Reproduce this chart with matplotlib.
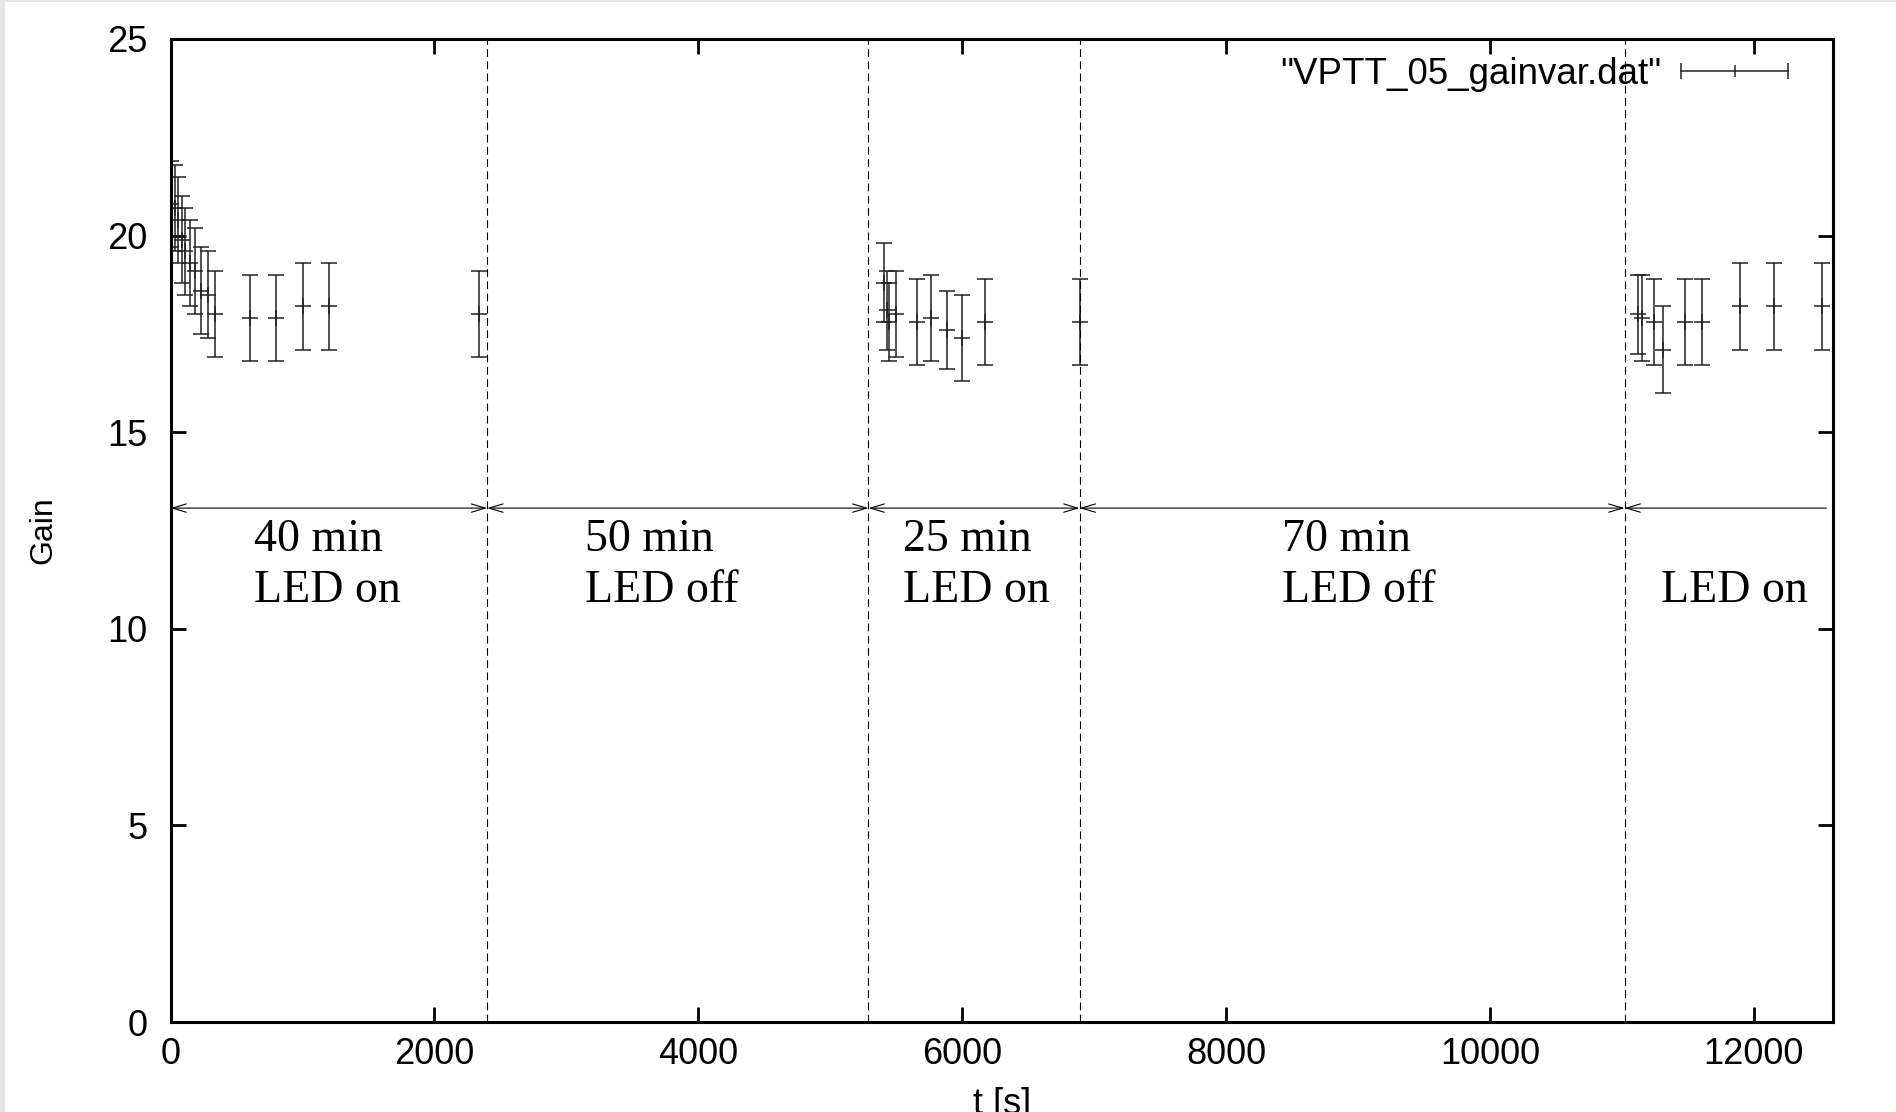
import matplotlib
matplotlib.use("Agg")
import matplotlib.pyplot as plt
from matplotlib.lines import Line2D
from matplotlib.patches import Rectangle
from matplotlib.legend_handler import HandlerLine2D, HandlerTuple

t_s = [5, 35, 60, 90, 110, 150, 185, 230, 285, 340, 600, 800, 1005, 1200, 2335,
       5410, 5430, 5445, 5500, 5655, 5760, 5885, 6000, 6175, 6895,
       11120, 11155, 11245, 11310, 11480, 11610, 11895, 12155, 12515]
gain = [20.8, 20.7, 20.4, 19.9, 19.6, 19.3, 19.1, 18.6, 18.5, 18.0, 17.9, 17.9, 18.2, 18.2, 18.0,
        18.8, 18.1, 17.8, 18.0, 17.8, 17.9, 17.6, 17.4, 17.8, 17.8,
        18.0, 17.9, 17.8, 17.1, 17.8, 17.8, 18.2, 18.2, 18.2]
gain_err = [1.1, 1.1, 1.1, 1.1, 1.1, 1.1, 1.1, 1.1, 1.1, 1.1, 1.1, 1.1, 1.1, 1.1, 1.1,
            1.0, 1.0, 1.0, 1.1, 1.1, 1.1, 1.0, 1.1, 1.1, 1.1,
            1.0, 1.1, 1.1, 1.1, 1.1, 1.1, 1.1, 1.1, 1.1]

# LED phases: boundaries (s), arrow height and annotation text
phase_bounds = [0, 2400, 5290, 6890, 11020, 12550]
arrow_y = 13.07
label_x = [630, 3145, 5555, 8425, 11295]
top_labels = ["40 min", "50 min", "25 min", "70 min", ""]
bottom_labels = ["LED on", "LED off", "LED on", "LED off", "LED on"]
top_y, bottom_y = 12.27, 10.98

sans = "Liberation Sans"
serif = "Liberation Serif"
ink = "#222222"

fig = plt.figure(figsize=(18.96, 11.12), dpi=100, facecolor="#e6e6e6")
fig.patches.append(Rectangle((5 / 1896, 0), 1, 1 - 2 / 1112, transform=fig.transFigure,
                             facecolor="white", edgecolor="none", zorder=-1))
ax = fig.add_axes([170.5 / 1896, 1 - 1022 / 1112, 1662.5 / 1896, 983 / 1112])

ax.errorbar(t_s, gain, yerr=gain_err, fmt="+", color=ink, ms=11.5, mew=1.1,
            elinewidth=1.1, capsize=5.75, capthick=1.1)

# phase separators and arrows
for b in phase_bounds[1:-1]:
    ax.axvline(b, color="black", lw=0.8, ls=(0, (7, 4)))
n_phases = len(phase_bounds) - 1
for i in range(n_phases):
    # last phase runs off the plot, so it only gets a head at its start
    style = "<->" if i < n_phases - 1 else "->"
    ax.annotate("", xy=(phase_bounds[i], arrow_y), xytext=(phase_bounds[i + 1], arrow_y),
                arrowprops=dict(arrowstyle=f"{style},head_length=1.0,head_width=0.3",
                                mutation_scale=10, lw=0.8, color="black",
                                shrinkA=0, shrinkB=0))

for x, top, bottom in zip(label_x, top_labels, bottom_labels):
    if top:
        ax.text(x, top_y, top, family=serif, fontsize=33, va="center", ha="left")
    ax.text(x, bottom_y, bottom, family=serif, fontsize=33, va="center", ha="left")

ax.set_xlim(0, 12600)
ax.set_ylim(0, 25)
ax.set_xticks(range(0, 12001, 2000))
ax.set_yticks(range(0, 26, 5))

ax.tick_params(direction="in", top=True, right=True, length=11, width=2, labelsize=26)
ax.tick_params(axis="x", pad=11)
ax.tick_params(axis="y", pad=16.5)
for lab in ax.get_xticklabels() + ax.get_yticklabels():
    lab.set_family(sans)
for sp in ax.spines.values():
    sp.set_linewidth(2.2)

ax.set_xlabel("t [s]", family=sans, fontsize=26)
ax.set_ylabel("Gain", family=sans, fontsize=23)
ax.xaxis.set_label_coords(0.5, -0.066)
ax.yaxis.set_label_coords(-0.0767, 0.5)
ax.yaxis.label.set_va("center")

# legend sample in gnuplot style: |--+--|
h_bar = Line2D([], [], color=ink, lw=1.1, marker="|", ms=11.5, mew=1.1)
h_pt = Line2D([], [], color=ink, ls="none", marker="|", ms=8, mew=1.1)
ax.legend([(h_bar, h_pt)], ['"VPTT_05_gainvar.dat"'],
          handler_map={h_bar: HandlerLine2D(numpoints=2, marker_pad=0),
                       h_pt: HandlerLine2D(numpoints=1),
                       tuple: HandlerTuple(ndivide=1)},
          loc="upper right", bbox_to_anchor=(0.973, 0.982), borderaxespad=0,
          borderpad=0, frameon=False, markerfirst=False, handlelength=2.9,
          handletextpad=0.55, prop={"family": sans, "size": 26.5})

fig.savefig("out.png", dpi=100, facecolor=fig.get_facecolor())
